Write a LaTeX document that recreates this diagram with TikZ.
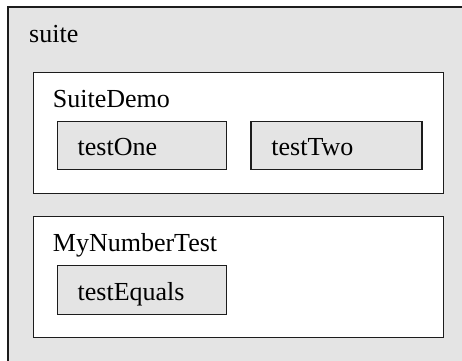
\documentclass[tikz,border=0pt]{standalone}
\usepackage{fontspec}
\setmainfont{Liberation Serif}
\usepackage{tikz}
\usetikzlibrary{positioning}
\definecolor{panel}{HTML}{E4E4E4}
\definecolor{edge}{HTML}{1C1C1C}
\newcommand{\lblfont}{\fontsize{26}{31}\selectfont}
\tikzset{
  frame/.style={draw=edge,line width=1.3pt,fill=panel,anchor=north west,inner sep=0pt},
  suitebox/.style={frame,fill=white,minimum width=410pt,minimum height=121pt},
  testbox/.style={frame,fill=panel,font=\lblfont,align=left,inner xsep=20.5pt,
    text height=22pt,text depth=0.5pt,minimum height=48pt},
  lbl/.style={anchor=base west,inner sep=0pt,font=\lblfont},
}
\begin{document}
\begin{tikzpicture}[x=1pt,y=-1pt]
  \path[use as bounding box] (0,0) rectangle (462,360);
  \fill[white] (-10,-10) rectangle (472,370);
  % outer suite, running off the page on the right and bottom
  \node[frame,draw=none,minimum width=470pt,minimum height=370pt] (suite) at (8,7) {};
  \draw[edge,line width=1.3pt] (suite.south west) -- (suite.north west) -- (suite.north east);
  \node[lbl] (suitelbl) at (29,42) {suite};
  % first test class
  \node[suitebox] (demo) at (32.5,71.5) {};
  \node[lbl] (demolbl) at (52.7,107) {SuiteDemo};
  \node[testbox,text width=128.5pt] (one) at (56.5,120.5) {testOne};
  \node[testbox,text width=130pt,right=23pt of one.north east,anchor=north west] (two) {testTwo};
  % second test class
  \node[suitebox] (num) at (32.5,216) {};
  \node[lbl] (numlbl) at (52.7,251) {MyNumberTest};
  \node[testbox,text width=128.5pt,minimum height=49pt] (eq) at (56.5,265) {testEquals};
\end{tikzpicture}
\end{document}
